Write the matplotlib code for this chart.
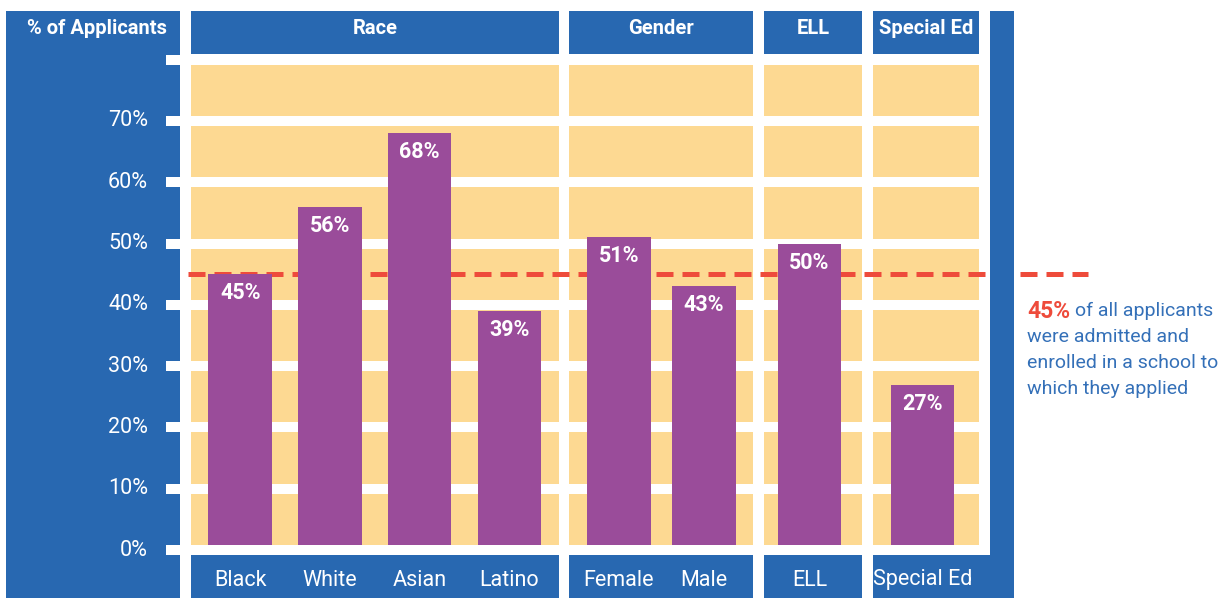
import matplotlib
matplotlib.use('Agg')
import numpy as np
import matplotlib.pyplot as plt
from matplotlib.patches import Rectangle

# dados
grupos = ['Race', 'Gender', 'ELL', 'Special Ed']
categorias = [['Black', 'White', 'Asian', 'Latino'],
              ['Female', 'Male'],
              ['ELL'],
              ['Special Ed']]
valores = [[45, 56, 68, 39],
           [51, 43],
           [50],
           [27]]
media_geral = 45
yticks = [0, 10, 20, 30, 40, 50, 60, 70]
ytick_labels = ['0%', '10%', '20%', '30%', '40%', '50%', '60%', '70%']

# cores
azul = '#2868B1'
amarelo = '#FDD992'
roxo = '#9A4C9A'
vermelho = '#EE4B3B'
azul_texto = '#3470B8'

plt.rcParams['font.family'] = ['Roboto', 'DejaVu Sans']
fs = 15.5

# layout em pixels (x) e escala vertical
W, H = 1222, 598
ppu = 6.129          # pixels por ponto percentual
y0 = 550             # pixel do 0%
def py(p):
    return (y0 - p) / ppu

paineis = [(190.7, 559.0), (569.3, 753.3), (764.0, 862.0), (872.7, 979.3)]
largura_barra = 63.5
margem = 49.5

fig = plt.figure(figsize=(W / 100, H / 100), dpi=100)
ax = fig.add_axes([0, 0, 1, 1])
ax.set_xlim(0, W)
ax.set_ylim(py(H), py(0))
ax.axis('off')

# coluna da esquerda e faixa da direita
ax.add_patch(Rectangle((6, py(H)), 180 - 6, py(11) - py(H), color=azul, lw=0, zorder=1))
ax.add_patch(Rectangle((990, py(H)), 1014 - 990, py(11) - py(H), color=azul, lw=0, zorder=6))
ax.text(167, py(28), '% of Applicants', color='white', fontsize=fs - 1, fontweight='bold',
        ha='right', va='center', zorder=7)

for (x0, x1), grupo, cats, vals in zip(paineis, grupos, categorias, valores):
    # fundo amarelo
    ax.add_patch(Rectangle((x0, 0), x1 - x0, 80, color=amarelo, lw=0, zorder=1))
    # cabecalho
    ax.add_patch(Rectangle((x0, py(54)), x1 - x0, py(11) - py(54), color=azul, lw=0, zorder=1))
    ax.text((x0 + x1) / 2, py(28), grupo, color='white', fontsize=fs - 1, fontweight='bold',
            ha='center', va='center', zorder=7)
    # caixa de rotulos
    x_fim = 1014 if grupo == 'Special Ed' else x1
    ax.add_patch(Rectangle((x0, py(H)), x_fim - x0, py(555) - py(H), color=azul, lw=0, zorder=1))
    if len(cats) > 1:
        centros = np.linspace(x0 + margem, x1 - margem, len(cats))
    else:
        centros = [(x0 + x1) / 2 - 3.5]
    ax.bar(centros, vals, width=largura_barra, color=roxo, zorder=4)
    for xc, c, v in zip(centros, cats, vals):
        ax.annotate(f'{v}%', (xc, v), xytext=(0, -8), textcoords='offset pixels',
                    color='white', fontsize=fs, fontweight='bold', ha='center', va='top', zorder=7)
        ax.text(xc, py(580), c, color='white', fontsize=fs, ha='center', va='center', zorder=7)

# linhas de grade brancas (com marcas na coluna azul)
esp = 10 / ppu
for t in yticks + [80]:
    z = 5 if t == 0 else 2
    ax.add_patch(Rectangle((166, t - esp / 2), 990 - 166, esp, color='white', lw=0, zorder=z))
for t, lab in zip(yticks, ytick_labels):
    ax.text(148, t, lab, color='white', fontsize=fs, ha='right', va='center', zorder=7)

# linha da media
ax.plot([188, 1088], [media_geral, media_geral], color=vermelho, lw=3.6,
        dashes=(3.4, 1.8), solid_capstyle='butt', dash_capstyle='butt', zorder=3)

# anotacao
t45 = ax.text(1027, py(311), f'{media_geral}%', color=vermelho, fontsize=fs + 1, fontweight='bold',
              ha='left', va='center')
ax.annotate('of all applicants', xy=(1, 0.5), xycoords=t45, xytext=(5, 0),
            textcoords='offset pixels', color=azul_texto, fontsize=fs - 1.5, ha='left', va='center')
ax.text(1027, py(337), 'were admitted and', color=azul_texto, fontsize=fs - 1.5, ha='left', va='center')
ax.text(1027, py(363), 'enrolled in a school to', color=azul_texto, fontsize=fs - 1.5, ha='left', va='center')
ax.text(1027, py(389), 'which they applied', color=azul_texto, fontsize=fs - 1.5, ha='left', va='center')

fig.savefig('out.png', dpi=100)
